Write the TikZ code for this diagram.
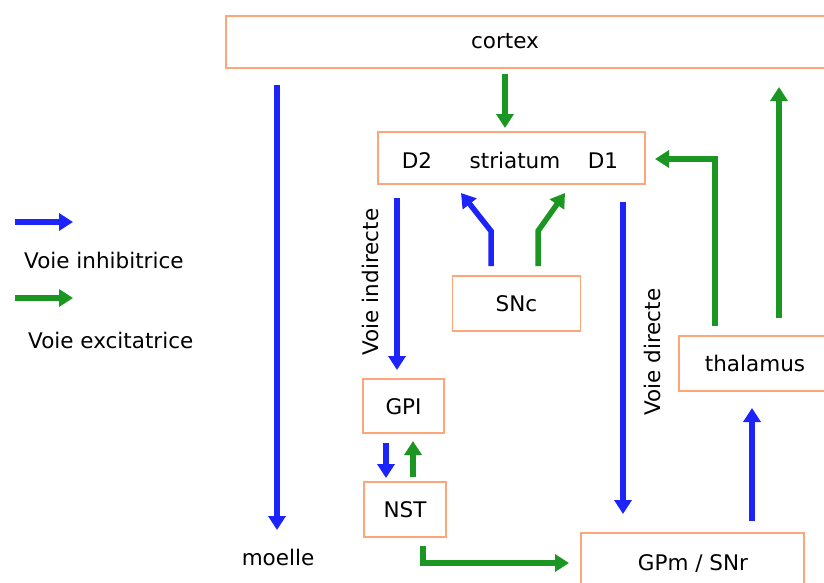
\documentclass[tikz,border=0pt]{standalone}
\usepackage{fontspec}
\setmainfont{DejaVu Sans}
\usetikzlibrary{arrows.meta}
\definecolor{inhib}{RGB}{28,36,250}
\definecolor{excit}{RGB}{28,150,34}
\definecolor{boxline}{RGB}{255,165,120}
\tikzset{
  box/.style={draw=boxline, line width=1.4pt, fill=white},
  lbl/.style={font=\fontsize{21.5}{24}\selectfont, text=black, inner sep=0pt, text height=18.5pt, text depth=2pt},
  inh/.style={draw=inhib, line width=5.5pt, -{Triangle[length=14pt,width=17pt]}},
  exc/.style={draw=excit, line width=5.5pt, -{Triangle[length=14pt,width=17pt]}},
}
\begin{document}
\begin{tikzpicture}[x=1pt,y=-1pt]
\clip (0,0) rectangle (824,582);
\useasboundingbox (0,0) rectangle (824,582);
\fill[white] (0,0) rectangle (824,582);
% boxes
\draw[box] (226,16) rectangle (840,68);
\node[lbl] (cortex) at (505,40) {cortex};
\node[box, minimum width=267pt, minimum height=52pt] (striatum) at (511.5,158) {};
\node[lbl] (D2) at (417,160) {D2};
\node[lbl] (str) at (515,160) {striatum};
\node[lbl] (D1) at (603,160) {D1};
\node[box, minimum width=128pt, minimum height=55pt, lbl] (SNc) at (516.5,303.5) {SNc};
\node[box, minimum width=81pt, minimum height=54pt, lbl] (GPI) at (403.5,406) {GPI};
\node[box, minimum width=82pt, minimum height=55pt, lbl] (NST) at (405,509.5) {NST};
\draw[box] (581,533) rectangle (804,600);
\node[lbl] (GPm) at (693,562) {GPm / SNr};
\draw[box] (679,336) rectangle (840,391);
\node[lbl] (thal) at (755,363) {thalamus};
\node[lbl] (moelle) at (278,557) {moelle};
% coordinates
\coordinate (m0) at (277,85); \coordinate (m1) at (277,530);
\coordinate (c0) at (505,74); \coordinate (c1) at (505,128);
\coordinate (d20) at (397,198); \coordinate (d21) at (397,370);
\coordinate (d10) at (623,202); \coordinate (d11) at (623,514);
\coordinate (sb0) at (491,266); \coordinate (sb1) at (491,231); \coordinate (sb2) at (461,193);
\coordinate (sg0) at (538,266); \coordinate (sg1) at (538,231); \coordinate (sg2) at (565,193);
\coordinate (gn0) at (386,443); \coordinate (gn1) at (386,478);
\coordinate (ng0) at (413,477); \coordinate (ng1) at (413,441);
\coordinate (np0) at (423,546); \coordinate (np1) at (423,563); \coordinate (np2) at (569,563);
\coordinate (gt0) at (752,521); \coordinate (gt1) at (752,408);
\coordinate (ts0) at (715,326); \coordinate (ts1) at (715,159); \coordinate (ts2) at (655,159);
\coordinate (tc0) at (779,318); \coordinate (tc1) at (779,87);
\coordinate (li0) at (15,222); \coordinate (li1) at (73,222);
\coordinate (le0) at (15,298); \coordinate (le1) at (73,298);
% arrows
\draw[inh] (m0) -- (m1);
\draw[exc] (c0) -- (c1);
\draw[inh] (d20) -- (d21);
\draw[inh] (d10) -- (d11);
\draw[inh] (sb0) -- (sb1) -- (sb2);
\draw[exc] (sg0) -- (sg1) -- (sg2);
\draw[inh] (gn0) -- (gn1);
\draw[exc] (ng0) -- (ng1);
\draw[exc] (np0) -- (np1) -- (np2);
\draw[inh] (gt0) -- (gt1);
\draw[exc] (ts0) -- (ts1) -- (ts2);
\draw[exc] (tc0) -- (tc1);
\draw[inh] (li0) -- (li1);
\draw[exc] (le0) -- (le1);
% labels
\node[lbl, rotate=90] (vi) at (370,282) {Voie indirecte};
\node[lbl, rotate=90] (vd) at (652,352) {Voie directe};
\node[lbl, anchor=west] (linh) at (24,260) {Voie inhibitrice};
\node[lbl, anchor=west] (lexc) at (28,340) {Voie excitatrice};
\end{tikzpicture}
\end{document}
